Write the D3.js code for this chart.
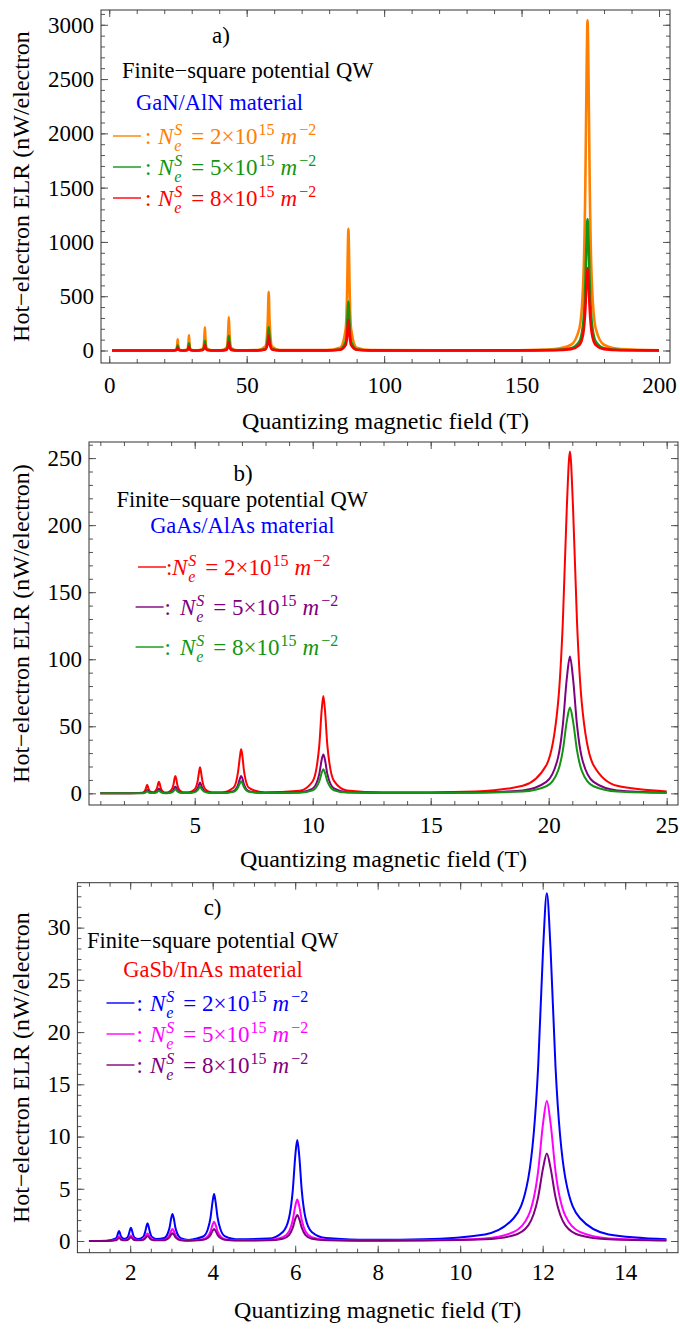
<!DOCTYPE html>
<html>
<head>
<meta charset="utf-8">
<script src="https://cdn.jsdelivr.net/npm/d3@7.9.0/dist/d3.min.js"></script>
<style>
  body { margin: 0; background: #fff; }
  svg text { font-family: "Liberation Serif", "DejaVu Serif", serif; }
</style>
</head>
<body>
<svg id="chart" width="680" height="1329"></svg>
<script>
// ---- panel a) GaN/AlN : field (T) and ELR (nW/electron)
const fieldA = [
  1, 15,
  23.1, 24.3, 24.73, 24.9, 25.07, 25.5, 26.7,
  27, 28.35, 28.81, 29, 29.19, 29.65, 31,
  32.3, 34.05, 34.58, 34.8, 35.02, 35.55, 37.3,
  40.5, 42.6, 43.24, 43.5, 43.76, 44.4, 46.5,
  54, 56.8, 57.67, 58, 58.33, 59.2, 62,
  79, 84, 86, 86.55, 86.8, 87, 87.2, 87.45, 88, 90, 95,
  120, 149, 162, 168, 171, 172.4, 173.2, 173.65, 174, 174.35, 174.8, 175.6, 177, 180, 186, 200
];
const orangeA = [
  0, 0,
  0.5, 8, 52, 104, 52, 8, 0.5,
  1.3, 11, 70, 141, 70, 11, 1.3,
  1.5, 17, 107, 214, 107, 17, 1.5,
  2, 24, 155, 309, 155, 24, 2,
  4, 38, 270, 540, 270, 38, 4,
  4, 26, 196, 560, 940, 1120, 940, 560, 196, 26, 4,
  1, 3, 13, 53, 200, 608, 1520, 2550, 3040, 2550, 1520, 608, 200, 53, 13, 3
];
const greenA = [
  0, 0,
  0.3, 4, 24, 49, 24, 4, 0.3,
  0.6, 5, 33, 67, 33, 5, 0.6,
  0.6, 7, 44, 88, 44, 7, 0.6,
  1, 10, 67, 134, 67, 10, 1,
  1.5, 15, 107, 214, 107, 15, 1.5,
  1.5, 10, 79, 225, 378, 450, 378, 225, 79, 10, 1.5,
  0.5, 1, 5, 21, 80, 242, 605, 1015, 1210, 1015, 605, 242, 80, 21, 5, 1
];
const redA = [
  0, 0,
  0.2, 2.2, 13.5, 27, 13.5, 2.2, 0.2,
  0.3, 3, 18, 36, 18, 3, 0.3,
  0.4, 4, 26, 52, 26, 4, 0.4,
  0.6, 6, 40, 79, 40, 6, 0.6,
  1, 10, 68, 137, 68, 10, 1,
  1, 7, 49, 141, 237, 282, 237, 141, 49, 7, 1,
  0.3, 1, 3, 13, 50, 152, 380, 638, 760, 638, 380, 152, 50, 13, 3, 1
];

// ---- panel b) GaAs/AlAs
const fieldB = [
  1, 2,
  2.77, 2.86, 2.92, 2.96, 2.986, 3.01, 3.05, 3.12,
  3.25, 3.33, 3.41, 3.453, 3.483, 3.513, 3.555, 3.63, 3.73,
  3.83, 3.98, 4.1, 4.145, 4.18, 4.215, 4.26, 4.38, 4.53,
  4.73, 4.98, 5.13, 5.19, 5.225, 5.26, 5.32, 5.47, 5.72,
  6.17, 6.64, 6.84, 6.92, 6.967, 7.02, 7.09, 7.3,
  7.95, 9.45, 10, 10.28, 10.38, 10.45, 10.52, 10.62, 10.9, 11.45, 12.95,
  15, 16.9, 18.9, 19.9, 20.4, 20.6, 20.77, 20.9, 21.03, 21.2, 21.4, 21.9, 22.9, 25
];
const redB = [
  0, 0.1,
  0.5, 1.2, 3.1, 5.3, 6.2, 5.3, 3.1, 1.2,
  0.8, 1.7, 4.4, 7.4, 8.7, 7.4, 4.4, 1.7, 0.7,
  0.7, 1.9, 6.5, 11, 12.9, 11, 6.5, 1.9, 0.8,
  0.8, 2.7, 9.7, 16.7, 19.4, 16.7, 9.7, 2.7, 0.8,
  0.8, 4.1, 16.4, 28, 32.8, 28, 16.4, 4.1,
  0.8, 2, 9, 36, 62, 72.6, 62, 36, 9.3, 2.2, 0.8,
  0.8, 1.4, 5.6, 21, 68, 128, 214, 255, 214, 128, 68, 21, 5.6, 1.4
];
const purpleB = [
  0, 0.05,
  0.2, 0.5, 1.25, 2.1, 2.5, 2.1, 1.25, 0.5,
  0.3, 0.67, 1.75, 3, 3.5, 3, 1.75, 0.67, 0.27,
  0.3, 0.75, 2.5, 4.3, 5, 4.3, 2.5, 0.75, 0.3,
  0.3, 1.1, 4, 6.9, 8, 6.9, 4, 1.1, 0.3,
  0.3, 1.6, 6.5, 11.2, 13, 11.2, 6.5, 1.6,
  0.3, 0.8, 3.6, 14.5, 25, 29, 25, 14.5, 3.7, 0.9, 0.3,
  0.3, 0.6, 2.2, 8.5, 27, 51, 86, 102, 86, 51, 27, 8.5, 2.2, 0.5
];
const greenB = [
  0, 0.03,
  0.1, 0.3, 0.75, 1.3, 1.5, 1.3, 0.75, 0.3,
  0.17, 0.4, 1, 1.7, 2, 1.7, 1, 0.4, 0.15,
  0.15, 0.45, 1.5, 2.6, 3, 2.6, 1.5, 0.45, 0.18,
  0.2, 0.7, 2.5, 4.3, 5, 4.3, 2.5, 0.7, 0.2,
  0.2, 1.1, 4.5, 7.7, 9, 7.7, 4.5, 1.1,
  0.2, 0.5, 2.3, 9, 15.3, 18, 15.3, 9, 2.3, 0.55, 0.2,
  0.2, 0.4, 1.4, 5.3, 17, 32, 54, 64, 54, 32, 17, 5.3, 1.4, 0.35
];

// ---- panel c) GaSb/InAs
const fieldC = [
  1,
  1.43, 1.654, 1.685, 1.711, 1.729, 1.747, 1.773, 1.804, 1.87,
  1.932, 1.967, 1.997, 2.017, 2.037, 2.067, 2.102, 2.2,
  2.32, 2.362, 2.395, 2.42, 2.445, 2.478, 2.52, 2.64,
  2.825, 2.905, 2.955, 2.995, 3.025, 3.055, 3.095, 3.145, 3.225, 3.425,
  3.53, 3.77, 3.88, 3.948, 3.998, 4.033, 4.068, 4.118, 4.19, 4.29, 4.55,
  5.35, 5.7, 5.85, 5.94, 6.005, 6.05, 6.095, 6.16, 6.25, 6.4, 6.75, 7.55,
  8, 9.1, 10.6, 11.3, 11.65, 11.89, 12.01, 12.1, 12.19, 12.31, 12.55, 12.9, 13.6, 15
];
const blueC = [
  0,
  0.03, 0.25, 0.48, 0.83, 0.96, 0.83, 0.48, 0.32, 0.21,
  0.33, 0.64, 1.09, 1.27, 1.09, 0.64, 0.33, 0.2,
  0.42, 0.85, 1.42, 1.69, 1.42, 0.85, 0.42, 0.19,
  0.28, 0.67, 1.29, 2.2, 2.58, 2.2, 1.29, 0.67, 0.28, 0.1,
  0.18, 0.43, 1.1, 2.25, 3.8, 4.5, 3.8, 2.25, 1.1, 0.47, 0.17,
  0.23, 0.87, 2.2, 4.8, 8.3, 9.66, 8.3, 4.8, 2.2, 0.87, 0.28, 0.13,
  0.12, 0.17, 0.63, 2.2, 6, 16.7, 28, 33.3, 28, 16.7, 6, 2.2, 0.63, 0.17
];
const magentaC = [
  0,
  0.01, 0.11, 0.21, 0.36, 0.42, 0.36, 0.21, 0.13, 0.09,
  0.14, 0.26, 0.45, 0.52, 0.45, 0.26, 0.14, 0.09,
  0.18, 0.36, 0.6, 0.72, 0.6, 0.36, 0.18, 0.1,
  0.13, 0.3, 0.58, 0.98, 1.15, 0.98, 0.58, 0.3, 0.13, 0.05,
  0.06, 0.18, 0.44, 0.92, 1.57, 1.85, 1.57, 0.92, 0.44, 0.18, 0.07,
  0.1, 0.36, 0.92, 2, 3.4, 3.98, 3.4, 2, 0.92, 0.36, 0.12, 0.05,
  0.045, 0.07, 0.25, 0.87, 2.4, 6.7, 11.3, 13.4, 11.3, 6.7, 2.4, 0.87, 0.25, 0.07
];
const purpleC = [
  0,
  0.01, 0.08, 0.15, 0.26, 0.3, 0.26, 0.15, 0.09, 0.06,
  0.09, 0.18, 0.31, 0.36, 0.31, 0.18, 0.09, 0.06,
  0.12, 0.24, 0.4, 0.47, 0.4, 0.24, 0.12, 0.06,
  0.08, 0.2, 0.38, 0.64, 0.75, 0.64, 0.38, 0.2, 0.08, 0.03,
  0.04, 0.11, 0.28, 0.58, 0.98, 1.15, 0.98, 0.58, 0.28, 0.11, 0.04,
  0.06, 0.22, 0.57, 1.25, 2.14, 2.49, 2.14, 1.25, 0.57, 0.22, 0.07, 0.03,
  0.03, 0.045, 0.16, 0.55, 1.5, 4.2, 7, 8.38, 7, 4.2, 1.5, 0.55, 0.16, 0.045
];

// tick labels
const xTicksA = [0, 50, 100, 150, 200];
const yTicksA = [0, 500, 1000, 1500, 2000, 2500, 3000];
const xTicksB = [5, 10, 15, 20, 25];
const yTicksB = [0, 50, 100, 150, 200, 250];
const xTicksC = [2, 4, 6, 8, 10, 12, 14];
const yTicksC = [0, 5, 10, 15, 20, 25, 30];

// legend text
const densities = ['2', '5', '8'];
const heading = 'Finite\u2212square potential QW';
const xTitle = 'Quantizing magnetic field (T)';

const GREEN = '#129512', PURPLE = '#800080';
const SERIF = '"Liberation Serif", "DejaVu Serif", serif';

const svg = d3.select('#chart');

// one legend row, N_e^S = k×10^15 m^-2, laid out as tspans of one text block
function richRow(txt, x0, y0, parts, color) {
  let cx = x0, lastStart = x0;
  parts.forEach(p => {
    const start = p.at !== undefined ? p.at : (p.stack ? lastStart : cx + (p.gap || 0));
    const t = txt.append('tspan')
      .attr('x', start).attr('y', y0 + (p.dy || 0))
      .attr('fill', color)
      .attr('font-size', p.size || 23)
      .attr('font-style', p.it ? 'italic' : 'normal')
      .text(p.t);
    const w = t.node().getComputedTextLength();
    if (!p.stack) lastStart = start;
    cx = Math.max(cx, start + w);
  });
}

function densityParts(d, colonX, nX) {
  return [
    { t: ':', at: colonX },
    { t: 'N', it: true, at: nX },
    { t: 'S', it: true, size: 16, dy: -9, gap: 1 },
    { t: 'e', it: true, size: 16, dy: 7, stack: true },
    { t: `= ${d}\u00d710`, gap: 9 },
    { t: '15', size: 16, dy: -9, gap: 1 },
    { t: 'm', it: true, gap: 6 },
    { t: '\u22122', size: 16, dy: -9, gap: 2 }
  ];
}

function drawPanel(p) {
  const x = d3.scaleLinear().domain(p.xDomain).range([p.left, p.right]);
  const y = d3.scaleLinear().domain(p.yDomain).range([p.bottom, p.top]);
  const g = svg.append('g').attr('font-family', SERIF);

  svg.append('clipPath').attr('id', 'clip-' + p.id)
    .append('rect')
    .attr('x', p.left).attr('y', p.top)
    .attr('width', p.right - p.left).attr('height', p.bottom - p.top);

  // curves
  p.series.forEach(s => {
    const line = d3.line()
      .x((d, i) => x(p.field[i]))
      .y(d => y(d))
      .curve(d3.curveMonotoneX);
    g.append('path')
      .attr('d', line(s.values))
      .attr('fill', 'none')
      .attr('stroke', s.color)
      .attr('stroke-width', p.lineWidth)
      .attr('stroke-linejoin', 'round')
      .attr('clip-path', `url(#clip-${p.id})`);
  });

  // frame ticks, inward and mirrored on all four sides
  const inX = v => v >= p.xDomain[0] && v <= p.xDomain[1];
  const inY = v => v >= p.yDomain[0] && v <= p.yDomain[1];
  const xMinor = d3.range(p.xMinor[0], p.xMinor[1] + 1e-9, p.xMinor[2]).filter(inX);
  const yMinor = d3.range(p.yMinor[0], p.yMinor[1] + 1e-9, p.yMinor[2]).filter(inY);
  const fmt = d3.format('d');

  const axes = [
    [d3.axisBottom(x).tickValues(xMinor).tickSize(-4).tickFormat(''), 0, p.bottom],
    [d3.axisTop(x).tickValues(xMinor).tickSize(-4).tickFormat(''), 0, p.top],
    [d3.axisTop(x).tickValues(p.xTicks).tickSize(-7).tickFormat(''), 0, p.top],
    [d3.axisLeft(y).tickValues(yMinor).tickSize(-4).tickFormat(''), p.left, 0],
    [d3.axisRight(y).tickValues(yMinor).tickSize(-4).tickFormat(''), p.right, 0],
    [d3.axisRight(y).tickValues(p.yTicks).tickSize(-7).tickFormat(''), p.right, 0],
    [d3.axisBottom(x).tickValues(p.xTicks).tickSize(-7).tickPadding(p.xPad).tickFormat(fmt), 0, p.bottom],
    [d3.axisLeft(y).tickValues(p.yTicks).tickSize(-7).tickPadding(7).tickFormat(fmt), p.left, 0]
  ];
  axes.forEach(([ax, tx, ty]) => {
    const a = g.append('g').attr('transform', `translate(${tx},${ty})`).call(ax);
    a.attr('font-family', SERIF).attr('font-size', 23);
    a.select('.domain').remove();
    a.selectAll('line').attr('stroke', '#555');
    a.selectAll('text').attr('fill', '#000');
  });

  g.append('rect')
    .attr('x', p.left).attr('y', p.top)
    .attr('width', p.right - p.left).attr('height', p.bottom - p.top)
    .attr('fill', 'none').attr('stroke', '#333').attr('stroke-width', 1);

  // axis titles
  g.append('text')
    .attr('x', (p.left + p.right) / 2).attr('y', p.xTitleY)
    .attr('text-anchor', 'middle').attr('font-size', 24)
    .text(xTitle);
  g.append('text')
    .attr('transform', `translate(29,${(p.top + p.bottom) / 2}) rotate(-90)`)
    .attr('text-anchor', 'middle').attr('font-size', 24)
    .text(p.yTitle);

  // panel texts
  g.append('text').attr('x', p.letter[1]).attr('y', p.letter[2])
    .attr('text-anchor', 'middle').attr('font-size', 23).text(p.letter[0]);
  g.append('text').attr('x', p.headPos[0]).attr('y', p.headPos[1])
    .attr('font-size', 22.5).text(heading);
  g.append('text').attr('x', p.material[2]).attr('y', p.material[3])
    .attr('text-anchor', 'middle').attr('font-size', 22.5)
    .attr('fill', p.material[1]).text(p.material[0]);

  // legend: short coloured stroke then the density label
  const legendText = g.append('text');
  p.legend.forEach((r, i) => {
    const s = p.series[r.series];
    g.append('line')
      .attr('x1', r.lineX).attr('x2', r.lineX + 28)
      .attr('y1', r.y - 8).attr('y2', r.y - 8)
      .attr('stroke', s.color).attr('stroke-width', 1.4);
    richRow(legendText, r.nX, r.y, densityParts(densities[i], r.lineX + r.colon, r.nX), s.color);
  });
}

drawPanel({
  id: 'a', left: 101, right: 670, top: 10, bottom: 363,
  xDomain: [-3, 204], yDomain: [-115, 3136],
  xTicks: xTicksA, yTicks: yTicksA, xMinor: [0, 200, 10], yMinor: [0, 3100, 100],
  xPad: 14, xTitleY: 429, lineWidth: 2.6,
  yTitle: 'Hot\u2212electron ELR (nW/electron',
  letter: ['a)', 221, 43], headPos: [122, 78],
  material: ['GaN/AlN material', '#0000ff', 219.5, 110],
  field: fieldA,
  series: [
    { color: '#ff8000', values: orangeA },
    { color: GREEN, values: greenA },
    { color: '#ff0000', values: redA }
  ],
  legend: [
    { series: 0, lineX: 113, colon: 32, nX: 158, y: 144 },
    { series: 1, lineX: 113, colon: 32, nX: 158, y: 175 },
    { series: 2, lineX: 113, colon: 32, nX: 158, y: 206 }
  ]
});

drawPanel({
  id: 'b', left: 89, right: 678, top: 442, bottom: 805,
  xDomain: [0.52, 25.48], yDomain: [-8.7, 262],
  xTicks: xTicksB, yTicks: yTicksB, xMinor: [1, 25, 1], yMinor: [0, 260, 10],
  xPad: 12, xTitleY: 867, lineWidth: 2,
  yTitle: 'Hot\u2212electron ELR (nW/electron)',
  letter: ['b)', 243, 481], headPos: [116.5, 507],
  material: ['GaAs/AlAs material', '#0000ff', 242.3, 533],
  field: fieldB,
  series: [
    { color: '#ff0000', values: redB },
    { color: PURPLE, values: purpleB },
    { color: GREEN, values: greenB }
  ],
  legend: [
    { series: 0, lineX: 138, colon: 28, nX: 172, y: 575 },
    { series: 1, lineX: 135.6, colon: 29, nX: 180, y: 615 },
    { series: 2, lineX: 135.6, colon: 29, nX: 180, y: 655 }
  ]
});

drawPanel({
  id: 'c', left: 77.4, right: 678, top: 882.7, bottom: 1252.7,
  xDomain: [0.72, 15.28], yDomain: [-1.12, 34.3],
  xTicks: xTicksC, yTicks: yTicksC, xMinor: [1, 15, 0.5], yMinor: [0, 34, 1],
  xPad: 11, xTitleY: 1318, lineWidth: 2,
  yTitle: 'Hot\u2212electron ELR (nW/electron',
  letter: ['c)', 212.6, 915], headPos: [87, 948],
  material: ['GaSb/InAs material', '#ff0000', 213, 977],
  field: fieldC,
  series: [
    { color: '#0000ff', values: blueC },
    { color: '#ff00ff', values: magentaC },
    { color: PURPLE, values: purpleC }
  ],
  legend: [
    { series: 0, lineX: 106.5, colon: 30, nX: 150, y: 1011 },
    { series: 1, lineX: 106.5, colon: 30, nX: 150, y: 1042 },
    { series: 2, lineX: 106.5, colon: 30, nX: 150, y: 1073 }
  ]
});
</script>
</body>
</html>
